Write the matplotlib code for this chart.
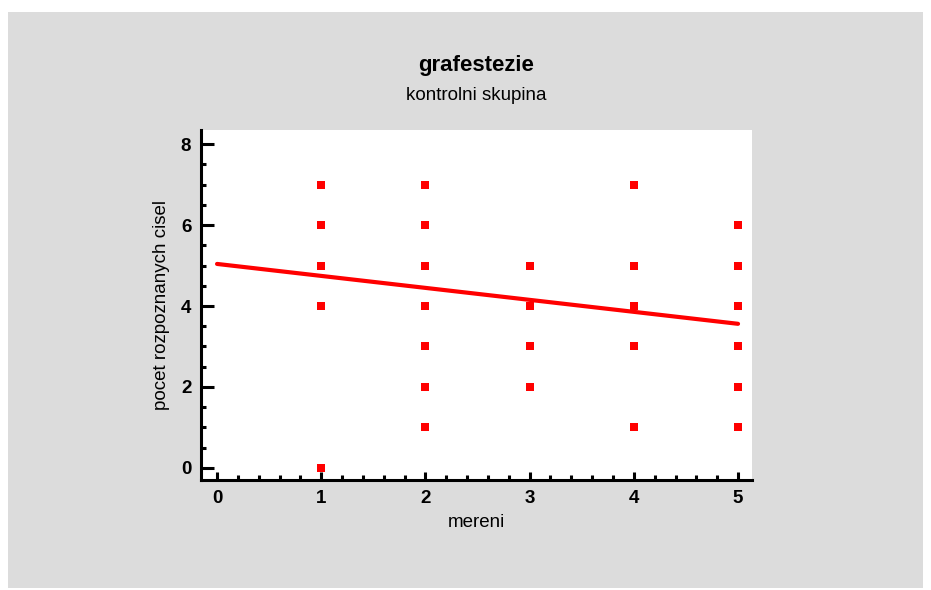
import matplotlib
matplotlib.use("Agg")
import matplotlib.pyplot as plt
from matplotlib.patches import Rectangle
from matplotlib.ticker import MultipleLocator

plt.rcParams['font.family'] = ['Liberation Sans', 'DejaVu Sans']

# data
x1 = [1, 1, 1, 1, 1]
y1 = [7, 6, 5, 4, 0]
x2 = [2, 2, 2, 2, 2, 2, 2]
y2 = [7, 6, 5, 4, 3, 2, 1]
x3 = [3, 3, 3, 3]
y3 = [5, 4, 3, 2]
x4 = [4, 4, 4, 4, 4]
y4 = [7, 5, 4, 3, 1]
x5 = [5, 5, 5, 5, 5, 5]
y5 = [6, 5, 4, 3, 2, 1]
line_x = [0, 5]
line_y = [5.04, 3.56]
x_ticks = [0, 1, 2, 3, 4, 5]
y_ticks = [0, 2, 4, 6, 8]

W, H = 931, 590
fig = plt.figure(figsize=(W / 100, H / 100), dpi=100)
fig.patch.set_facecolor('white')
bg = Rectangle((8 / W, 1 - 588 / H), (923 - 8) / W, (588 - 12) / H,
               transform=fig.transFigure, facecolor='#DCDCDC',
               edgecolor='none', zorder=-10)
fig.add_artist(bg)

ax = fig.add_axes([201 / W, 1 - 480 / H, (752 - 201) / W, (480 - 130) / H])
ax.set_zorder(1)
ax.set_facecolor('white')

xs = x1 + x2 + x3 + x4 + x5
ys = y1 + y2 + y3 + y4 + y5
ax.plot(xs, ys, linestyle='none', marker='s', markersize=5.2, color='#FF0000',
        markeredgewidth=0, zorder=3)
ax.plot(line_x, line_y, color='#FF0000', linewidth=3, solid_capstyle='round', zorder=2)

ax.set_xlim(-0.154, 5.134)
ax.set_ylim(-0.30, 8.35)

ax.spines['top'].set_visible(False)
ax.spines['right'].set_visible(False)
for s in ['left', 'bottom']:
    ax.spines[s].set_linewidth(2.2)
    ax.spines[s].set_color('black')

ax.set_xticks(x_ticks)
ax.set_yticks(y_ticks)
ax.xaxis.set_minor_locator(MultipleLocator(0.2))
ax.yaxis.set_minor_locator(MultipleLocator(0.5))
ax.tick_params(axis='both', which='major', direction='in', length=7, width=2.2,
               labelsize=13.5, pad=7)
ax.tick_params(axis='both', which='minor', direction='in', length=3.5, width=2.2)
ax.tick_params(axis='y', which='major', length=9)
ax.tick_params(axis='x', which='major', length=6)
for lab in ax.get_xticklabels() + ax.get_yticklabels():
    lab.set_fontweight('bold')

ax.set_xlabel('mereni', fontsize=13.5, labelpad=5)
ax.set_ylabel('pocet rozpoznanych cisel', fontsize=13.5, labelpad=8)

fig.text(476 / W, 1 - 66 / H, 'grafestezie', fontsize=16, fontweight='bold',
         ha='center', va='center')
fig.text(476 / W, 1 - 95 / H, 'kontrolni skupina', fontsize=13.5,
         ha='center', va='center')

fig.savefig('out.png', dpi=100)
